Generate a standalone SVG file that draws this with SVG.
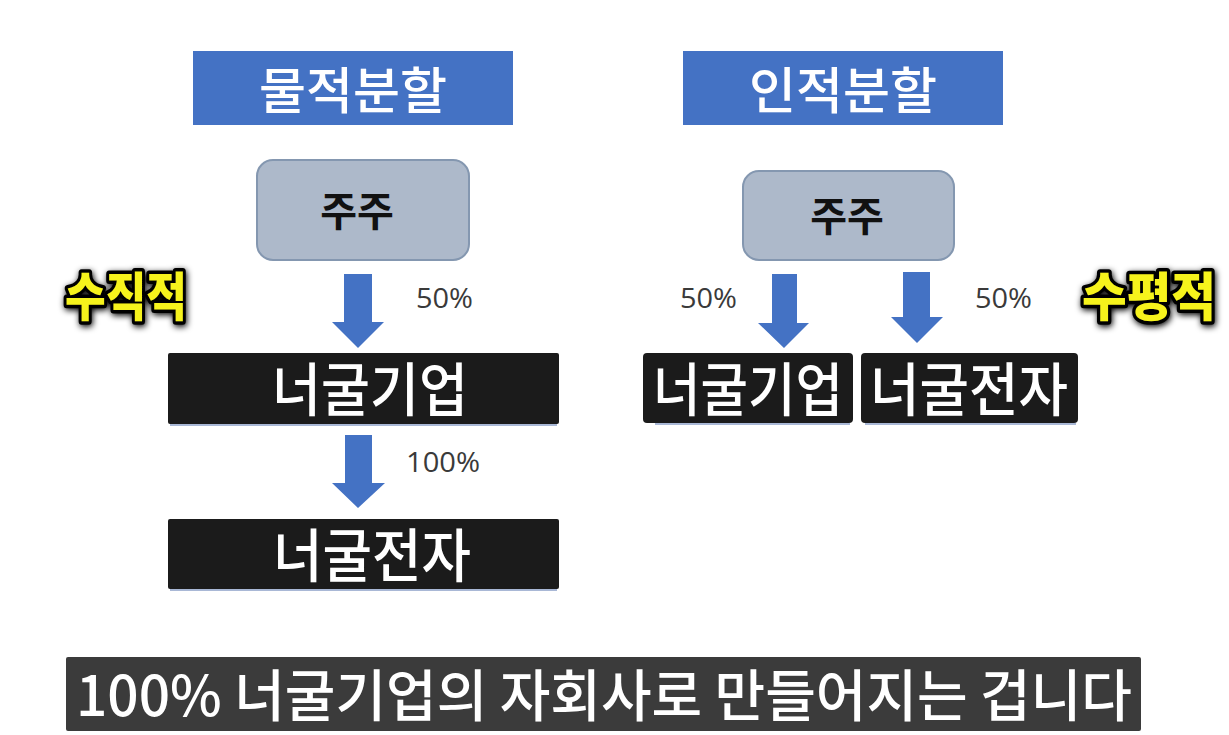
<svg xmlns="http://www.w3.org/2000/svg" width="1229" height="735" viewBox="0 0 1229 735">
<defs>
<style>
.title{fill:#4472c4}
.titletxt{fill:#ffffff;font-family:"Noto Sans CJK KR","Noto Sans",sans-serif;font-size:50px;font-weight:500;text-anchor:middle}
.holder{fill:#adb9ca;stroke:#8497b0;stroke-width:2}
.holdertxt{fill:#111;font-family:"Noto Sans CJK KR","Noto Sans",sans-serif;font-size:40px;font-weight:bold;text-anchor:middle}
.co{fill:#1b1b1b}
.coline{stroke:#a9b8d6;stroke-width:2}
.cotxt{fill:#ffffff;font-family:"Noto Sans CJK KR","Noto Sans",sans-serif;font-size:58px;font-weight:500;text-anchor:middle}
.arrow{fill:#4472c4}
.pct{fill:#3a3a3a;font-family:"Open Sans","Liberation Sans",sans-serif;font-size:27px}
.side{fill:#f6f31c;stroke:#000;stroke-width:7;stroke-linejoin:round;paint-order:stroke;font-family:"Noto Sans CJK KR",sans-serif;font-size:52px;font-weight:900;text-anchor:middle}
.cap{fill:#3b3b3b}
.captxt{fill:#ffffff;font-family:"Noto Sans CJK KR","Noto Sans",sans-serif;font-size:56px;font-weight:500}
</style>
<filter id="glow" x="-20%" y="-30%" width="140%" height="160%">
<feGaussianBlur in="SourceAlpha" stdDeviation="3"/>
<feOffset dx="1" dy="2" result="b"/>
<feMerge><feMergeNode in="b"/><feMergeNode in="SourceGraphic"/></feMerge>
</filter>
</defs>
<rect width="1229" height="735" fill="#ffffff"/>

<g id="title-left">
<rect class="title" x="193" y="51" width="320" height="74"/>
<text class="titletxt" x="353" y="109" textLength="188" lengthAdjust="spacingAndGlyphs">물적분할</text>
</g>
<g id="title-right">
<rect class="title" x="683" y="51" width="320" height="74"/>
<text class="titletxt" x="843" y="109" textLength="188" lengthAdjust="spacingAndGlyphs">인적분할</text>
</g>

<g id="holder-left">
<rect class="holder" x="257" y="160" width="212" height="100" rx="16"/>
<text class="holdertxt" x="357" y="226">주주</text>
</g>
<g id="holder-right">
<rect class="holder" x="743" y="171" width="211" height="89" rx="16"/>
<text class="holdertxt" x="847" y="231">주주</text>
</g>

<g id="connectors">
<polygon class="arrow" points="344,274 372,274 372,322 384,322 358,348 332,322 344,322"/>
<polygon class="arrow" points="345,435 372,435 372,483 385,483 358,508 332,483 345,483"/>
<polygon class="arrow" points="772,274 797,274 797,323 809,323 784,348 758,323 772,323"/>
<polygon class="arrow" points="903,272 930,272 930,317 943,317 917,343 891,317 903,317"/>
<text class="pct" x="416" y="308" textLength="57" lengthAdjust="spacingAndGlyphs">50%</text>
<text class="pct" x="406" y="472" textLength="74" lengthAdjust="spacingAndGlyphs">100%</text>
<text class="pct" x="680" y="308" textLength="57" lengthAdjust="spacingAndGlyphs">50%</text>
<text class="pct" x="975" y="308" textLength="57" lengthAdjust="spacingAndGlyphs">50%</text>
</g>

<g id="company-left-1">
<line class="coline" x1="170" y1="425" x2="557" y2="425"/>
<rect class="co" x="168" y="353" width="391" height="71" rx="2"/>
<text class="cotxt" x="370" y="411" textLength="196" lengthAdjust="spacingAndGlyphs">너굴기업</text>
</g>
<g id="company-left-2">
<line class="coline" x1="170" y1="590" x2="557" y2="590"/>
<rect class="co" x="168" y="519" width="391" height="70" rx="2"/>
<text class="cotxt" x="372" y="577" textLength="198" lengthAdjust="spacingAndGlyphs">너굴전자</text>
</g>
<g id="company-right-1">
<line class="coline" x1="655" y1="424" x2="850" y2="424"/>
<rect class="co" x="643" y="353" width="210" height="70" rx="4"/>
<text class="cotxt" x="748" y="411" textLength="190" lengthAdjust="spacingAndGlyphs">너굴기업</text>
</g>
<g id="company-right-2">
<line class="coline" x1="865" y1="424" x2="1076" y2="424"/>
<rect class="co" x="861" y="353" width="217" height="70" rx="4"/>
<text class="cotxt" x="969" y="411" textLength="198" lengthAdjust="spacingAndGlyphs">너굴전자</text>
</g>

<g id="label-vertical" filter="url(#glow)">
<text class="side" x="126" y="316" textLength="122" lengthAdjust="spacingAndGlyphs">수직적</text>
</g>
<g id="label-horizontal" filter="url(#glow)">
<text class="side" x="1149" y="316" textLength="134" lengthAdjust="spacingAndGlyphs">수평적</text>
</g>

<g id="caption">
<rect class="cap" x="66" y="657" width="1075" height="74" rx="2"/>
<text class="captxt" x="76" y="716" textLength="1056" lengthAdjust="spacingAndGlyphs">100% 너굴기업의 자회사로 만들어지는 겁니다</text>
</g>
</svg>
